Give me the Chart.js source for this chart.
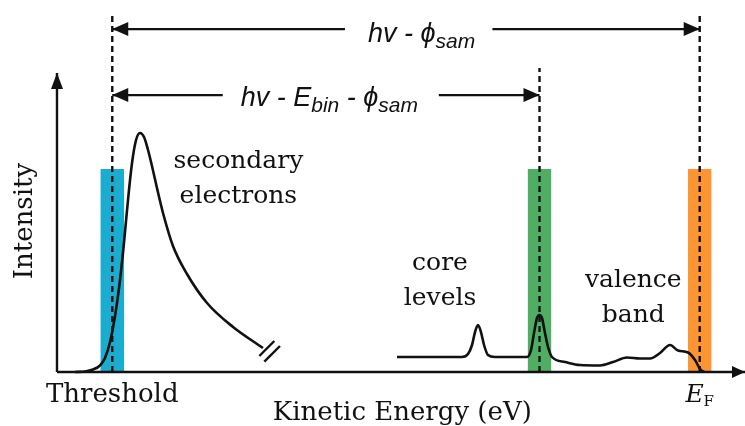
<!DOCTYPE html>
<html><head><meta charset="utf-8">
<script src="https://cdn.jsdelivr.net/npm/chart.js@4/dist/chart.umd.min.js"></script>
<style>html,body{margin:0;padding:0;background:#fff}#wrap{width:745px;height:426px;position:relative}</style>
</head><body><div id="wrap"><canvas id="c"></canvas></div>
<script>
// ---- data (arbitrary kinetic-energy units on x, arbitrary intensity on y) ----
const secondaryE = [10.07, 11.41, 12.48, 13.42, 14.09, 14.77, 15.44, 16.11, 16.64, 17.18, 17.72, 18.26, 18.79, 19.33, 19.87, 20.40, 21.07, 21.88, 23.22, 25.10, 27.79, 31.28, 35.30];
const secondaryI = [0, 0.17, 0.83, 2.17, 4.67, 10, 18.67, 30.67, 43, 57.33, 69.67, 77.33, 79.67, 78.33, 74, 68.67, 61.33, 53, 42, 32.67, 23, 15, 8];
const spectrumE = [53.29, 62.01, 62.82, 63.36, 63.76, 64.16, 64.56, 64.97, 65.50, 66.44, 70.74, 71.28, 71.68, 72.08, 72.42, 72.75, 73.15, 73.56, 74.09, 75.84, 77.85, 80.54, 82.28, 84.16, 85.91, 87.25, 88.59, 89.93, 91.01, 92.35, 93.29, 93.96, 94.50];
const spectrumI = [5, 5, 6, 9, 13.33, 15.67, 13.33, 9, 5.67, 5, 5, 7.33, 13, 18, 19, 18, 13, 8.33, 5, 3.33, 2.33, 2.17, 3.33, 4.83, 4.5, 4.5, 6.33, 9, 7.17, 6.5, 4, 1, 0];
const markerNames = ['Threshold', 'core level', 'E_F'];
const markerE = [15.07, 72.42, 93.92];
const markerTop = [118.7, 101.3, 118.7];
const windowHalf = 1.6;
const windowHeight = 67.7;
const windowColors = ['#1badcf', '#50ae64', '#fd9632'];
const axisOriginE = 7.65, axisEndE = 100, axisTopI = 99.7;
const arrowLevels = [114.3, 92.3];          // hv - phi ; hv - Ebin - phi
const arrowTargets = [93.92, 72.42];
const arrowGaps = [[46.3, 66.1], [29.9, 58.9]];
const breakMarks = [[[34.81, 5.33], [36.82, 10.33]], [[35.48, 3.43], [37.58, 8.67]]];

const pts = (xs, ys) => xs.map((x, i) => ({x, y: ys[i]}));
const black = '#111';
const datasets = [];

// energy windows (coloured bands)
markerE.forEach((e, i) => datasets.push({
  data: [{x: e - windowHalf, y: windowHeight}, {x: e + windowHalf, y: windowHeight}],
  showLine: true, borderWidth: 0, borderColor: 'rgba(0,0,0,0)', backgroundColor: windowColors[i], fill: 'origin', order: 5
}));
// dashed markers
markerE.forEach((e, i) => datasets.push({
  data: [{x: e, y: 0}, {x: e, y: markerTop[i]}],
  showLine: true, borderColor: black, borderWidth: 2.4, borderDash: [6, 4], fill: false, order: 3
}));
// spectra
datasets.push({data: pts(secondaryE, secondaryI), showLine: true, borderColor: black, borderWidth: 2.6, cubicInterpolationMode: 'monotone', fill: false, order: 1});
datasets.push({data: pts(spectrumE, spectrumI), showLine: true, borderColor: black, borderWidth: 2.6, cubicInterpolationMode: 'monotone', fill: false, order: 1});
breakMarks.forEach(b => datasets.push({data: b.map(p => ({x: p[0], y: p[1]})), showLine: true, borderColor: black, borderWidth: 2.4, fill: false, order: 1}));
// axes
datasets.push({data: [{x: axisOriginE, y: 0}, {x: axisOriginE, y: axisTopI}], showLine: true, borderColor: black, borderWidth: 2.4, fill: false, order: 1, arrowEnd: [16, 6]});
datasets.push({data: [{x: axisOriginE, y: 0}, {x: axisEndE, y: 0}], showLine: true, borderColor: black, borderWidth: 2.4, fill: false, order: 1, arrowEnd: [13, 6]});
// double arrows
arrowLevels.forEach((lv, i) => {
  datasets.push({data: [{x: arrowGaps[i][0], y: lv}, {x: markerE[0], y: lv}], showLine: true, borderColor: black, borderWidth: 2.2, fill: false, order: 1, arrowEnd: [16, 7]});
  datasets.push({data: [{x: arrowGaps[i][1], y: lv}, {x: arrowTargets[i], y: lv}], showLine: true, borderColor: black, borderWidth: 2.2, fill: false, order: 1, arrowEnd: [16, 7]});
});

const serif = '"DejaVu Serif", serif';
const sans = '"Liberation Sans", Arial, sans-serif';
const labels = [
  {parts: [['secondary', '25px ' + serif, 0]], x: 32.0, y: 68.0},
  {parts: [['electrons', '25px ' + serif, 0]], x: 32.0, y: 56.3},
  {parts: [['core', '25px ' + serif, 0]], x: 59.06, y: 34.0},
  {parts: [['levels', '25px ' + serif, 0]], x: 59.06, y: 22.3},
  {parts: [['valence', '25px ' + serif, 0]], x: 85.0, y: 28.3},
  {parts: [['band', '25px ' + serif, 0]], x: 85.0, y: 16.7},
  {parts: [['Threshold', '26px ' + serif, 0]], x: markerE[0], y: -10},
  {parts: [['E', 'italic 25px ' + serif, 0], ['F', '15px ' + serif, 4]], x: markerE[2], y: -10},
  {parts: [['Kinetic Energy (eV)', '26px ' + serif, 0]], x: 54.0, y: -16},
  {parts: [['hv - \u03d5', 'italic 27px ' + sans, 0], ['sam', 'italic 21px ' + sans, 6]], x: 56.6, y: 110.1},
  {parts: [['hv - E', 'italic 27px ' + sans, 0], ['bin', 'italic 21px ' + sans, 6], [' - \u03d5', 'italic 27px ' + sans, 0], ['sam', 'italic 21px ' + sans, 6]], x: 44.2, y: 88.8},
  {parts: [['Intensity', '26px ' + serif, 0]], x: 3.36, y: 50.3, rotate: true}
];

const decor = {
  id: 'decor',
  afterDatasetsDraw(chart) {
    const ctx = chart.ctx, xs = chart.scales.x, ys = chart.scales.y;
    ctx.save();
    ctx.fillStyle = black;
    chart.data.datasets.forEach(ds => {
      if (!ds.arrowEnd) return;
      const [L, W] = ds.arrowEnd;
      const a = ds.data[ds.data.length - 2], b = ds.data[ds.data.length - 1];
      const x1 = xs.getPixelForValue(a.x), y1 = ys.getPixelForValue(a.y);
      const x2 = xs.getPixelForValue(b.x), y2 = ys.getPixelForValue(b.y);
      const ang = Math.atan2(y2 - y1, x2 - x1);
      ctx.save(); ctx.translate(x2, y2); ctx.rotate(ang);
      ctx.beginPath(); ctx.moveTo(0, 0); ctx.lineTo(-L, -W); ctx.lineTo(-L, W); ctx.closePath(); ctx.fill();
      ctx.restore();
    });
    ctx.textBaseline = 'alphabetic';
    labels.forEach(lb => {
      const px = xs.getPixelForValue(lb.x), py = ys.getPixelForValue(lb.y);
      let total = 0;
      lb.parts.forEach(p => { ctx.font = p[1]; total += ctx.measureText(p[0]).width; });
      ctx.save();
      ctx.translate(px, py);
      if (lb.rotate) { ctx.rotate(-Math.PI / 2); ctx.textBaseline = 'middle'; }
      let cx = -total / 2;
      lb.parts.forEach(p => { ctx.font = p[1]; ctx.textAlign = 'left'; ctx.fillText(p[0], cx, p[2]); cx += ctx.measureText(p[0]).width; });
      ctx.restore();
    });
    ctx.restore();
  }
};

new Chart(document.getElementById('c'), {
  type: 'scatter',
  data: {datasets},
  options: {
    responsive: true, maintainAspectRatio: false, animation: false,
    layout: {padding: 0},
    elements: {point: {radius: 0, hoverRadius: 0}},
    plugins: {legend: {display: false}, tooltip: {enabled: false}},
    scales: {
      x: {type: 'linear', min: 0, max: 100, display: false},
      y: {type: 'linear', min: -18, max: 124, display: false}
    }
  },
  plugins: [decor]
});
</script></body></html>
